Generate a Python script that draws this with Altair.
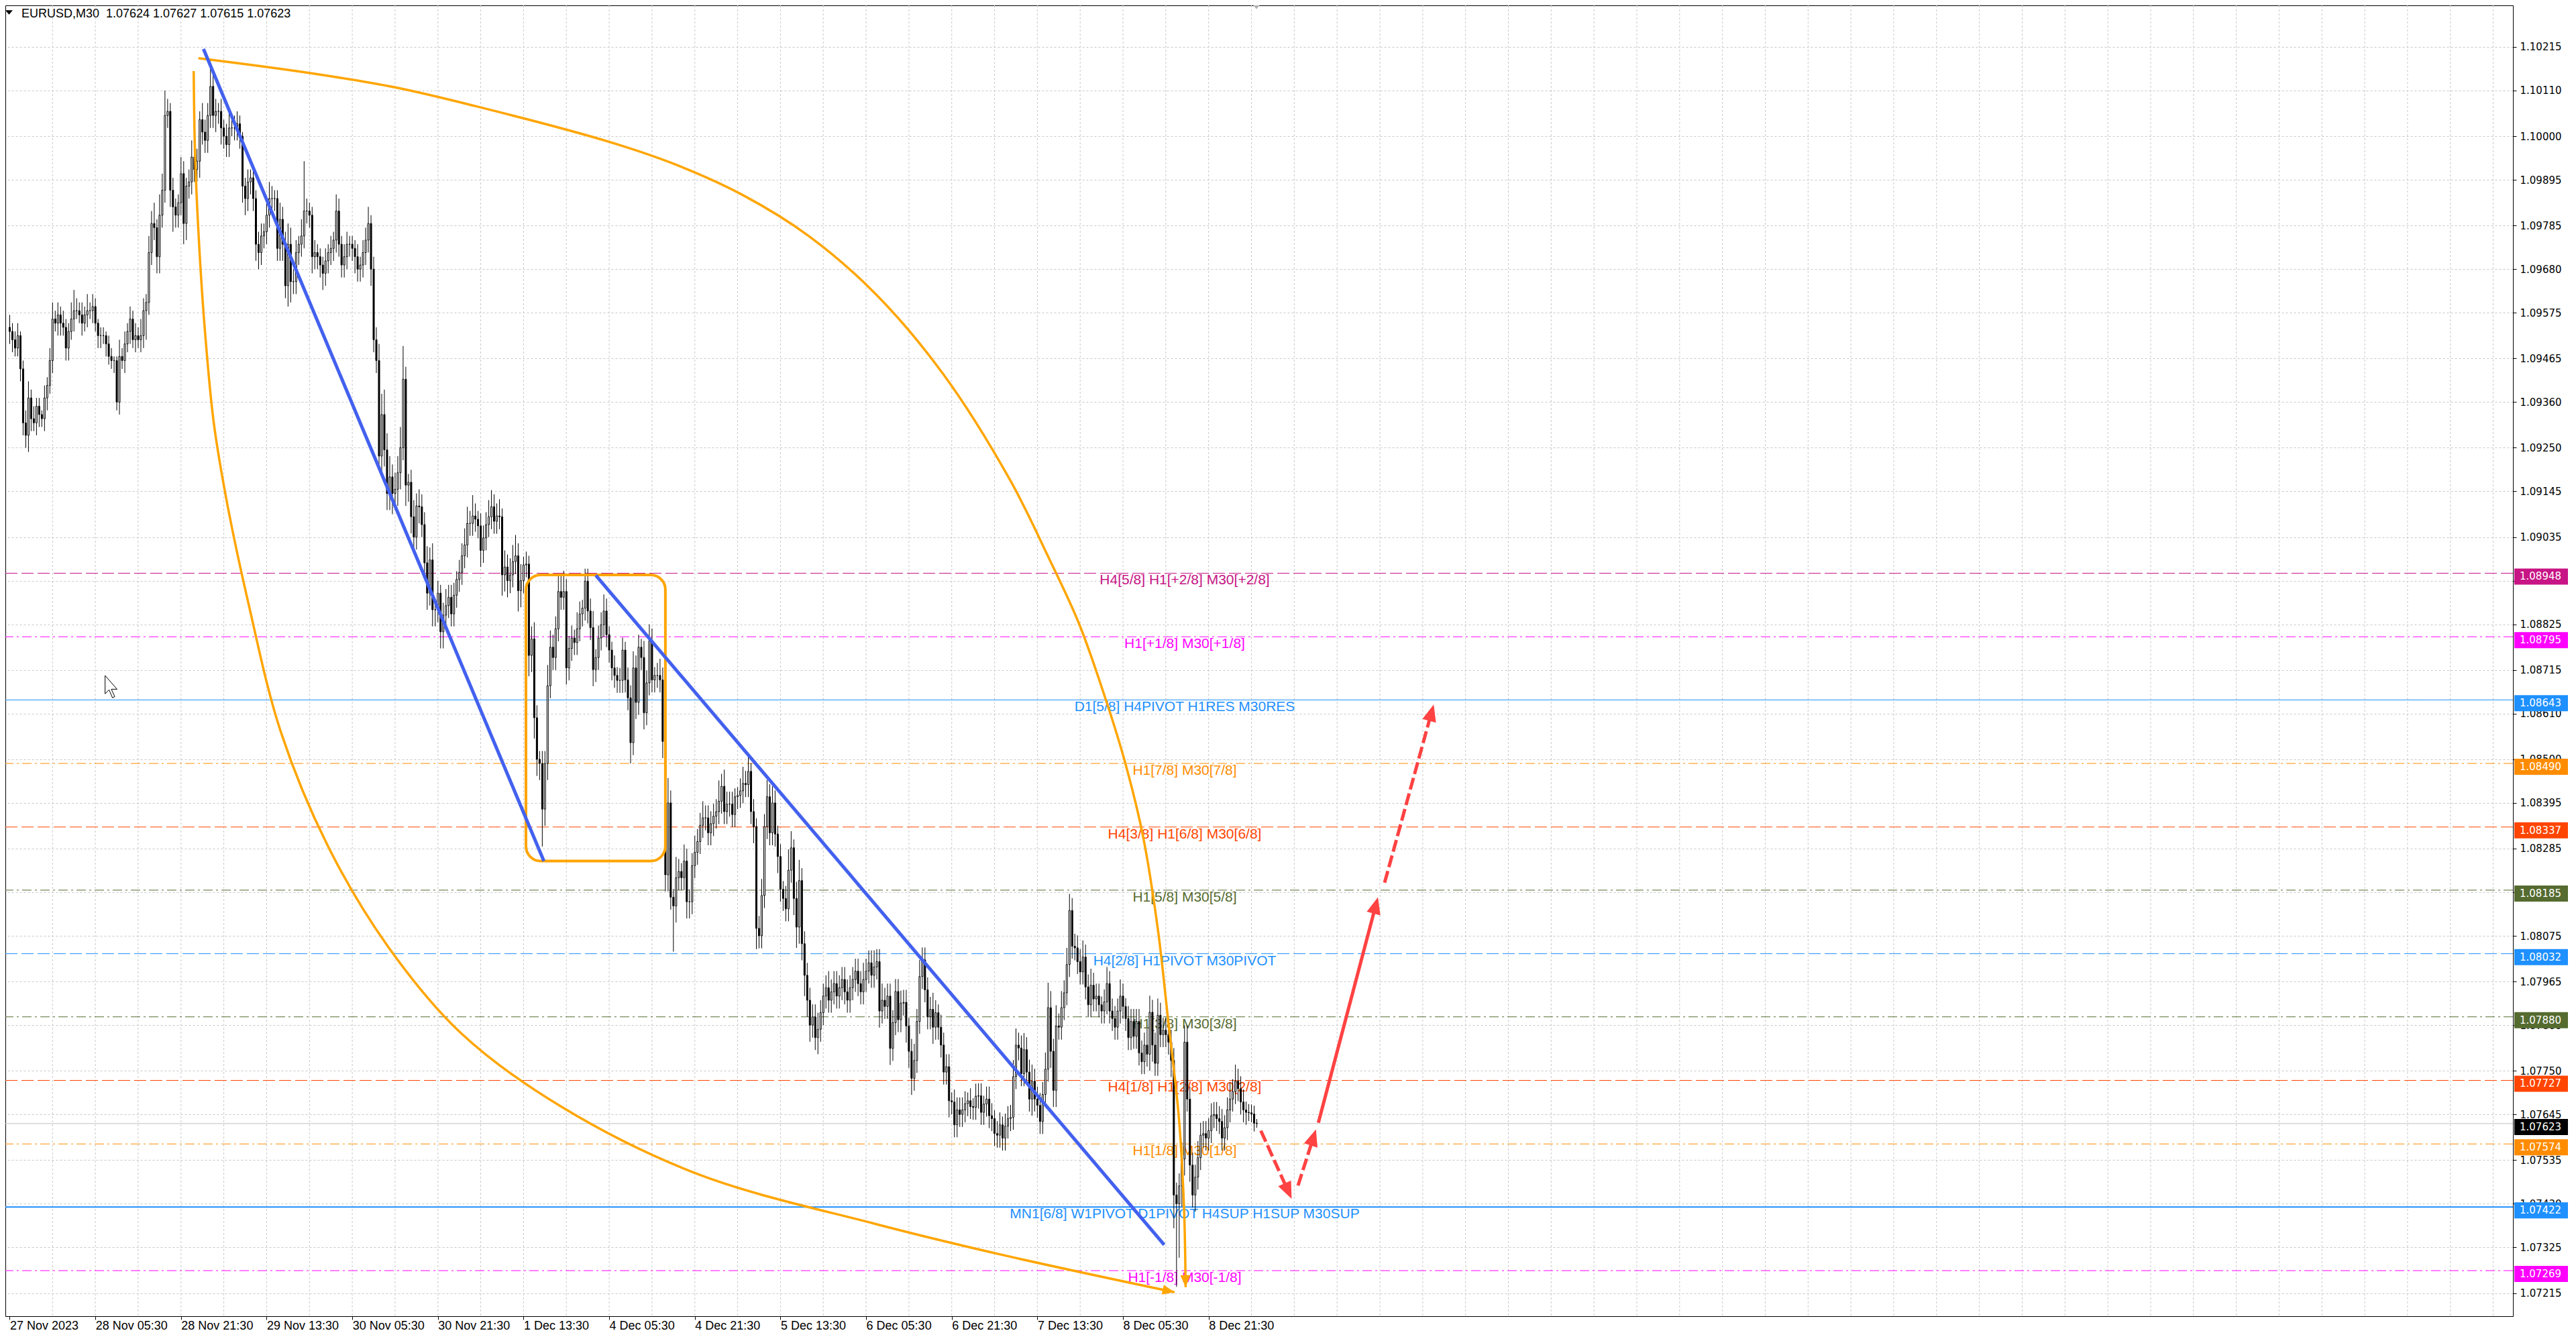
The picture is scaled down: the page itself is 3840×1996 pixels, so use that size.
import json
import math
import altair as alt
import pandas as pd

alt.data_transformers.disable_max_rows()

# ---------------- data ----------------
TITLE_TEXT = "EURUSD,M30\u00a0\u00a01.07624 1.07627 1.07615 1.07623"
PRICE_BASE = 1.07
PIP = 0.0001

OPEN_FIRST = 254.0
CLOSE_PIPS = [
    253, 251, 249, 252, 244, 231, 228, 237, 232, 231,
    235, 233, 232, 237, 240, 246, 256, 255, 257, 255,
    254, 249, 253, 256, 258, 258, 257, 255, 257, 258,
    258, 259, 255, 252, 252, 252, 250, 247, 246, 246,
    236, 247, 246, 250, 253, 256, 251, 252, 251, 252,
    258, 260, 272, 279, 278, 271, 281, 287, 305, 306,
    287, 283, 281, 284, 291, 279, 288, 289, 295, 292,
    294, 304, 301, 299, 305, 312, 305, 306, 306, 302,
    300, 298, 302, 302, 302, 303, 300, 288, 285, 289,
    290, 285, 274, 272, 276, 277, 281, 285, 285, 285,
    273, 280, 274, 264, 274, 265, 265, 272, 274, 276,
    282, 282, 281, 271, 272, 271, 269, 267, 270, 272,
    273, 275, 282, 274, 269, 271, 274, 274, 273, 271,
    268, 269, 272, 275, 279, 268, 251, 246, 223, 233,
    224.5, 214, 218, 214, 215, 219, 225, 241.5, 216, 216.7,
    208.4, 203.5, 211, 210.8, 206.5, 197.3, 190, 198, 186, 186,
    190, 180.7, 184.7, 187, 189, 185, 189.5, 193.3, 195, 199,
    201.6, 206.8, 206.8, 208.6, 207.8, 206.2, 200.3, 203.3, 206.5, 208.4,
    210.8, 207.3, 208.6, 208.4, 194.4, 196.3, 193, 194.4, 197.6, 199,
    190.6, 193, 196.8, 197, 175, 179, 160, 150, 149, 138,
    149, 167.7, 177, 174.5, 181.4, 190.4, 189, 190.4, 172, 176.7,
    179.2, 178.1, 181.4, 185, 186.4, 192.9, 185.7, 181.7, 171.6, 174.5,
    179.2, 182.4, 185.7, 180, 176.3, 172, 170.2, 169, 169, 176.3,
    169.1, 164.8, 154, 172, 163.7, 177, 174.5, 161.2, 168.4, 178.5,
    169.1, 170.2, 170.2, 169.1, 154.3, 122.2, 139.5, 116.8, 114.7, 121.5,
    123, 121.5, 125.5, 115.7, 115.7, 124.4, 127.6, 130.2, 134.1, 135.9,
    135.9, 132.3, 134.5, 136.3, 137.4, 139.9, 143.5, 137.4, 139.2, 139.2,
    136.7, 141, 141.3, 142.4, 144.2, 143.9, 147.1, 137.4, 133.8, 109.3,
    107.5, 117.2, 133.8, 141, 132.3, 139.5, 132, 126.6, 118.7, 116.5,
    114, 123.3, 128.7, 116.5, 109.6, 120.8, 105.6, 98, 92, 86,
    88, 83, 85, 89, 93, 95, 92, 94, 96, 93,
    95, 97, 94, 92, 95, 97, 99, 96, 94, 97,
    99, 101, 98, 100, 101.3, 89.4, 92, 90.5, 93, 80.4,
    86.6, 94.1, 87.3, 91.3, 91.5, 85.8, 79.7, 73.2, 77.5, 86.9,
    97.7, 101.7, 94.5, 88, 89.8, 85.5, 89, 85.5, 81.2, 74.7,
    76, 67.8, 67.5, 62, 65.6, 64.5, 65.6, 67.1, 67.8, 66.4,
    66.2, 68.9, 69, 65, 67, 68.2, 64.2, 63.5, 59.9, 59.5,
    62, 58.8, 61.7, 63.5, 63.8, 73.6, 81.2, 80.5, 74.3, 80.1,
    74.7, 68.2, 72.5, 68.2, 66.7, 62.8, 69.3, 75.4, 90.2, 79.7,
    70.3, 85.8, 85.5, 90.2, 93.8, 100.6, 113.6, 105, 104.6, 101.3,
    98.8, 102.4, 95.2, 90.9, 95.6, 92.3, 93, 90.9, 89.4, 91.6,
    96, 89.4, 87.6, 85.5, 89.4, 93, 90.5, 87.6, 83, 86.9,
    83.3, 86.9, 79.3, 77.2, 81.2, 79, 89.1, 81.2, 76.8, 88.4,
    83.7, 84.8, 83.7, 81.9, 77.5, 45.1, 43, 47.3, 53.8, 81.9,
    68.2, 52.3, 45.1, 49.4, 54.1, 59.5, 59.9, 58.8, 60.6, 64.2,
    64.5, 63.5, 62.8, 58.8, 61.3, 65.6, 68.2, 70, 72.5, 70.7,
    67.5, 65.6, 65, 64.9, 64.6, 62.4, 62.3,
]
UPPER_WICK_PIPS = [
    3, 2, 2, 3, 1, 2, 3, 4, 2, 3,  2, 2, 1, 3, 2, 3, 4, 2, 3, 2,
    3, 2, 2, 4, 5, 3, 2, 3, 2, 4,  2, 3, 2, 1, 2, 2, 1, 2, 2, 1,
    1, 4, 2, 3, 2, 3, 2, 3, 2, 4,  3, 2, 4, 3, 5, 2, 5, 4, 6, 3,
    2, 3, 2, 2, 4, 3, 2, 3, 4, 3,  3, 2, 4, 3, 3, 6, 4, 3, 2, 3,
    2, 3, 4, 3, 3, 3, 2, 1, 2, 3,  2, 3, 2, 3, 3, 2, 3, 4, 3, 2,
    2, 4, 3, 3, 5, 4, 3, 3, 2, 4,  12, 3, 2, 2, 3, 2, 2, 2, 3, 2,
    3, 2, 4, 3, 2, 3, 3, 2, 2, 2,  3, 2, 3, 3, 4, 2, 3, 3, 4, 5,
    6, 4, 5, 3, 4, 4, 5, 8, 3, 2,  3, 4, 3, 4, 3, 3, 4, 3, 4, 2,
    3, 2, 3, 4, 3, 3, 3, 2, 3, 3,  4, 4, 3, 5, 3, 2, 3, 3, 3, 4,
    4, 3, 3, 4, 2, 4, 3, 4, 4, 5,  3, 4, 2, 3, 2, 3, 4, 3, 2, 3,
    3, 5, 4, 3, 3, 4, 4, 5, 3, 3,  3, 2, 4, 3, 2, 3, 3, 3, 4, 2,
    3, 3, 4, 3, 2, 2, 3, 2, 3, 3,  2, 3, 3, 4, 3, 3, 2, 4, 3, 4,
    3, 2, 3, 4, 3, 4, 6, 3, 2, 5,  3, 2, 4, 3, 3, 3, 4, 3, 3, 4,
    3, 3, 3, 3, 3, 5, 3, 4, 3, 3,  3, 2, 2, 3, 4, 3, 4, 2, 3, 2,
    3, 4, 3, 4, 3, 4, 3, 2, 3, 2,  3, 5, 4, 2, 4, 5, 3, 3, 3, 3,
    3, 3, 4, 3, 3, 3, 4, 3, 3, 3,  3, 3, 3, 3, 3, 3, 3, 3, 3, 4,
    3, 3, 3, 4, 3, 3, 4, 3, 3, 3,  3, 3, 3, 3, 3, 3, 2, 3, 4, 3,
    4, 3, 3, 3, 3, 4, 3, 2, 3, 3,  3, 3, 2, 3, 3, 3, 3, 3, 2, 3,
    2, 3, 3, 3, 2, 3, 3, 3, 2, 3,  3, 2, 3, 3, 3, 4, 4, 3, 3, 4,
    3, 3, 4, 3, 3, 3, 3, 4, 6, 4,  3, 5, 3, 4, 3, 4, 4, 3, 3, 3,
    3, 4, 3, 3, 4, 3, 3, 3, 2, 3,  4, 3, 3, 3, 3, 4, 3, 2, 3, 3,
    3, 3, 3, 3, 3, 4, 4, 3, 3, 4,  3, 3, 3, 3, 3, 3, 3, 3, 4, 4,
    4, 3, 3, 3, 4, 3, 3, 3, 3, 3,  3, 3, 3, 3, 3, 3, 4, 3, 4, 3,
    3, 3, 2, 2, 2, 2, 1,
]
LOWER_WICK_PIPS = [
    3, 3, 2, 2, 3, 3, 3, 4, 3, 2,  3, 3, 2, 3, 3, 2, 3, 2, 3, 3,
    2, 3, 3, 2, 3, 2, 2, 3, 2, 3,  2, 3, 2, 3, 3, 2, 3, 2, 2, 3,
    2, 3, 2, 3, 2, 3, 2, 3, 2, 3,  3, 7, 3, 3, 3, 4, 4, 3, 3, 3,
    4, 6, 3, 3, 3, 5, 4, 3, 3, 3,  3, 4, 3, 3, 3, 3, 3, 4, 3, 4,
    3, 3, 3, 2, 3, 3, 3, 4, 4, 3,  3, 3, 4, 4, 3, 3, 3, 3, 3, 3,
    3, 3, 4, 3, 5, 5, 3, 3, 3, 3,  3, 3, 3, 4, 3, 3, 3, 4, 3, 3,
    3, 3, 3, 3, 3, 3, 3, 3, 3, 4,  3, 3, 3, 3, 3, 4, 3, 3, 3, 5,
    4, 4, 4, 5, 4, 4, 4, 3, 5, 4,  4, 4, 3, 4, 3, 4, 4, 3, 4, 4,
    3, 4, 4, 3, 3, 3, 3, 3, 3, 3,  3, 3, 3, 3, 3, 3, 4, 3, 3, 3,
    3, 3, 3, 3, 5, 4, 4, 3, 3, 3,  5, 4, 3, 3, 5, 4, 5, 4, 4, 9,
    4, 4, 3, 3, 3, 3, 3, 3, 4, 3,  3, 3, 3, 3, 3, 3, 3, 3, 4, 3,
    3, 3, 3, 3, 3, 3, 3, 3, 3, 3,  3, 3, 5, 3, 4, 3, 3, 4, 3, 3,
    3, 3, 3, 3, 4, 4, 4, 3, 11, 4,  3, 3, 3, 4, 4, 3, 3, 3, 3, 3,
    3, 3, 3, 3, 3, 3, 3, 3, 3, 3,  3, 3, 3, 3, 3, 3, 3, 3, 4, 5,
    3, 3, 3, 3, 3, 3, 3, 4, 3, 3,  3, 3, 3, 4, 5, 4, 4, 5, 4, 4,
    3, 3, 4, 3, 3, 3, 3, 3, 3, 3,  3, 3, 3, 3, 3, 3, 3, 3, 3, 3,
    3, 3, 3, 3, 3, 4, 3, 3, 3, 4,  3, 3, 3, 3, 3, 4, 4, 4, 3, 3,
    3, 3, 3, 3, 3, 4, 3, 3, 3, 3,  3, 4, 3, 3, 3, 3, 3, 3, 3, 3,
    3, 3, 3, 3, 3, 3, 3, 3, 3, 3,  3, 3, 3, 3, 3, 3, 3, 3, 3, 3,
    3, 3, 4, 3, 3, 3, 3, 3, 3, 4,  4, 4, 3, 3, 3, 3, 3, 3, 3, 3,
    3, 3, 3, 3, 3, 3, 3, 3, 3, 3,  3, 3, 3, 3, 3, 3, 3, 3, 3, 3,
    3, 3, 3, 3, 3, 3, 4, 4, 3, 3,  3, 3, 3, 3, 4, 8, 20, 13, 5, 4,
    3, 4, 3, 4, 3, 3, 3, 3, 3, 3,  3, 3, 3, 3, 3, 3, 3, 3, 3, 3,
    3, 3, 3, 2, 2, 2, 1,
]

DATE_LABELS = ["27 Nov 2023", "28 Nov 05:30", "28 Nov 21:30", "29 Nov 13:30",
               "30 Nov 05:30", "30 Nov 21:30", "1 Dec 13:30", "4 Dec 05:30",
               "4 Dec 21:30", "5 Dec 13:30", "6 Dec 05:30", "6 Dec 21:30",
               "7 Dec 13:30", "8 Dec 05:30", "8 Dec 21:30"]
BARS_PER_LABEL = 32
BARS_PER_GRID = 16

PRICE_TICKS = [1.10215, 1.10110, 1.10000, 1.09895, 1.09785, 1.09680, 1.09575,
               1.09465, 1.09360, 1.09250, 1.09145, 1.09035, 1.08930, 1.08825,
               1.08715, 1.08610, 1.08500, 1.08395, 1.08285, 1.08180, 1.08075,
               1.07965, 1.07860, 1.07750, 1.07645, 1.07535, 1.07430, 1.07325,
               1.07215]

LEVEL_PRICES = [1.08948, 1.08795, 1.08643, 1.08490, 1.08337, 1.08185,
                1.08032, 1.07880, 1.07727, 1.07574, 1.07422, 1.07269]
LEVEL_TEXTS = ["H4[5/8] H1[+2/8] M30[+2/8]", "H1[+1/8] M30[+1/8]",
               "D1[5/8] H4PIVOT H1RES M30RES", "H1[7/8] M30[7/8]",
               "H4[3/8] H1[6/8] M30[6/8]", "H1[5/8] M30[5/8]",
               "H4[2/8] H1PIVOT M30PIVOT", "H1[3/8] M30[3/8]",
               "H4[1/8] H1[2/8] M30[2/8]", "H1[1/8] M30[1/8]",
               "MN1[6/8] W1PIVOT D1PIVOT H4SUP H1SUP M30SUP", "H1[-1/8] M30[-1/8]"]
LEVEL_COLORS = ["#C71585", "#FF00FF", "#1E90FF", "#FF8C00", "#FF4500", "#556B2F",
                "#1E90FF", "#556B2F", "#FF4500", "#FF8C00", "#1E90FF", "#FF00FF"]
LEVEL_STYLES = ["dash", "dashdot", "solid", "dashdot", "dash", "dashdot",
                "dash", "dashdot", "dash", "dashdot", "solid", "dashdot"]
LEVEL_WIDTHS = [1, 1, 1, 1, 1, 1, 1, 1, 1, 1, 2, 1]
CURRENT_PRICE = 1.07623

# drawings, in (bar index, pips above 1.07000)
BOX_BARS = [192.9, 245.0]
BOX_PIPS = [194.4, 125.5]
TREND_BARS = {"t1": [72.4, 199.6], "t2": [219.0, 431.4]}
TREND_PIPS = {"t1": [321.0, 125.5], "t2": [194.3, 33.1]}
ARC1_BARS = [68.75, 69.25, 70.75, 73.0, 76.25, 81.25, 89.25, 101.25, 118.75, 141.25,
             168.75, 206.25, 257.25, 323.75, 371.5, 435.25]
ARC1_PIPS = [315.7, 295.8, 274.2, 252.7, 231.0, 211.6, 187.4, 156.7, 129.3, 105.0,
             84.0, 66.3, 50.1, 38.1, 30.6, 21.7]
ARC2_BARS = [70.5, 110.25, 143.75, 173.75, 223.75, 248.75, 273.75, 298.75, 323.75,
             348.75, 373.75, 388.1, 399.6, 409.6, 416.8, 423.5, 429.0, 432.8, 436.9,
             438.8, 439.4]
ARC2_PIPS = [318.8, 315.4, 311.8, 307.3, 298.7, 293.2, 285.9, 275.9, 261.9,
             242.8, 217.3, 198.7, 182.6, 164.3, 149.2, 131.4, 109.2, 87.6, 63.5,
             42.0, 22.9]
ARROW_BARS = {"a": [467.5, 479.0], "b": [481.4, 488.1], "c": [489.0, 511.25], "d": [513.75, 532.1]}
ARROW_PIPS = {"a": [60.6, 44.2], "b": [47.4, 60.9], "c": [62.5, 116.8], "d": [120.3, 163.2]}
ARROW_STYLE = {"a": "dash", "b": "dash", "c": "solid", "d": "dash"}

# ---------------- geometry ----------------
W, H = 3738, 1954
X_DOMAIN = [-0.375, 934.125]
Y_DOMAIN = [1.071593, 1.103151]
PX_BAR = W / (X_DOMAIN[1] - X_DOMAIN[0])
PX_PIP = H / ((Y_DOMAIN[1] - Y_DOMAIN[0]) / PIP)

XS = alt.Scale(domain=X_DOMAIN, nice=False, zero=False)
YS = alt.Scale(domain=Y_DOMAIN, nice=False, zero=False)

label_expr = json.dumps(DATE_LABELS) + "[round(datum.value / %d)]" % BARS_PER_LABEL
XAX = alt.Axis(values=[BARS_PER_LABEL * k for k in range(len(DATE_LABELS))],
               labelExpr=label_expr, title=None, grid=False, tickSize=5,
               tickColor="black", domainColor="black", labelFont="Liberation Sans",
               labelFontSize=18, labelColor="black", labelAlign="left",
               labelBaseline="top", labelPadding=0, labelOverlap=False,
               labelFlush=False, labelBound=False)
YAX = alt.Axis(orient="right", values=PRICE_TICKS, format=".5f", title=None,
               labelFont="DejaVu Sans", labelFontSize=15, labelColor="black",
               labelAlign="left", labelBaseline="middle", labelPadding=5,
               tickSize=5, tickColor="black", domainColor="black", grid=True,
               gridColor="#C8C8C8", gridDash=[3, 3], gridWidth=1,
               labelOverlap=False, labelFlush=False, labelBound=False)


def X(f):
    return alt.X(f, scale=XS, axis=XAX)


def Y(f):
    return alt.Y(f, scale=YS, axis=YAX)


def price(v):
    return PRICE_BASE + v * PIP


# candles
n = len(CLOSE_PIPS)
opens = [OPEN_FIRST] + CLOSE_PIPS[:-1]
cdf = pd.DataFrame({
    "i": list(range(n)),
    "o": [price(v) for v in opens],
    "c": [price(v) for v in CLOSE_PIPS],
    "h": [price(max(o, c) + u) for o, c, u in zip(opens, CLOSE_PIPS, UPPER_WICK_PIPS)],
    "l": [price(min(o, c) - d) for o, c, d in zip(opens, CLOSE_PIPS, LOWER_WICK_PIPS)],
})

# grid
vgrid = pd.DataFrame({"g": list(range(BARS_PER_GRID, int(X_DOMAIN[1]) + 1, BARS_PER_GRID))})
grid_layer = alt.Chart(vgrid).mark_rule(color="#C8C8C8", strokeDash=[3, 3], strokeWidth=1).encode(x=X("g:Q"))

# levels
ldf = pd.DataFrame({"p": LEVEL_PRICES, "t": LEVEL_TEXTS, "col": LEVEL_COLORS,
                    "sty": LEVEL_STYLES, "w": LEVEL_WIDTHS})
DASH = alt.Scale(domain=["solid", "dash", "dashdot"], range=[[1, 0], [18, 6], [14, 5, 3, 5]])
level_lines = alt.Chart(ldf).mark_rule().encode(
    y=Y("p:Q"), color=alt.Color("col:N", scale=None),
    strokeDash=alt.StrokeDash("sty:N", scale=DASH, legend=None),
    strokeWidth=alt.StrokeWidth("w:Q", scale=None))
cur_line = alt.Chart(pd.DataFrame({"p": [CURRENT_PRICE]})).mark_rule(color="#C0C0C0", strokeWidth=1).encode(y=Y("p:Q"))
level_text = alt.Chart(ldf).mark_text(font="Liberation Sans", fontSize=21, align="center",
                                      baseline="alphabetic", dy=17).encode(
    x=alt.value(1758), y=Y("p:Q"), text="t:N", color=alt.Color("col:N", scale=None))

wicks = alt.Chart(cdf).mark_rule(color="black", strokeWidth=1).encode(x=X("i:Q"), y=Y("l:Q"), y2="h:Q")
bodies = alt.Chart(cdf).mark_bar(size=2, stroke="black", strokeWidth=1).encode(
    x=X("i:Q"), y=Y("o:Q"), y2="c:Q",
    fill=alt.condition("datum.c >= datum.o", alt.value("white"), alt.value("black")))

# box
box = alt.Chart(pd.DataFrame({"x1": [BOX_BARS[0]], "x2": [BOX_BARS[1]],
                              "y1": [price(BOX_PIPS[0])], "y2": [price(BOX_PIPS[1])]})).mark_rect(
    cornerRadius=22, fillOpacity=0, stroke="#FFA500", strokeWidth=4).encode(
    x=X("x1:Q"), x2="x2:Q", y=Y("y1:Q"), y2="y2:Q")

# arcs
arc_rows = []
for name, bs, ps in (("arc1", ARC1_BARS, ARC1_PIPS), ("arc2", ARC2_BARS, ARC2_PIPS)):
    for k, (b, p) in enumerate(zip(bs, ps)):
        arc_rows.append({"name": name, "seq": k, "i": b, "p": price(p)})
arcs = alt.Chart(pd.DataFrame(arc_rows)).mark_line(color="#FFA500", strokeWidth=3.5,
                                                   interpolate="catmull-rom").encode(
    x=X("i:Q"), y=Y("p:Q"), detail="name:N", order="seq:Q")

HEAD_SHAPE = "M0,-1L0.75,0.8L-0.75,0.8Z"


def head(b0, p0, b1, p1, r):
    dx = (b1 - b0) * PX_BAR
    dy = (p1 - p0) * PX_PIP
    a = math.degrees(math.atan2(dx, dy)) % 360
    ci = b1 - r * math.sin(math.radians(a)) / PX_BAR
    cp = p1 - r * math.cos(math.radians(a)) / PX_PIP
    return a, ci, cp


arc_heads = []
for bs, ps in ((ARC1_BARS, ARC1_PIPS), (ARC2_BARS, ARC2_PIPS)):
    a, ci, cp = head(bs[-2], ps[-2], bs[-1], ps[-1], 10)
    arc_heads.append({"i": ci, "p": price(cp), "a": a})
arc_head_layer = alt.Chart(pd.DataFrame(arc_heads)).mark_point(
    shape=HEAD_SHAPE, filled=True, size=400, color="#FFA500", opacity=1).encode(
    x=X("i:Q"), y=Y("p:Q"), angle=alt.Angle("a:Q", scale=None))

# trend lines
trows = []
for name in TREND_BARS:
    for k in range(2):
        trows.append({"name": name, "seq": k, "i": TREND_BARS[name][k], "p": price(TREND_PIPS[name][k])})
trends = alt.Chart(pd.DataFrame(trows)).mark_line(color="#4361EE", strokeWidth=5).encode(
    x=X("i:Q"), y=Y("p:Q"), detail="name:N", order="seq:Q")

# red arrows
rrows, rheads = [], []
R_RED = 14
for name in ARROW_BARS:
    b0, b1 = ARROW_BARS[name]
    p0, p1 = ARROW_PIPS[name]
    a, ci, cp = head(b0, p0, b1, p1, R_RED)
    eb = b1 - 1.5 * R_RED * math.sin(math.radians(a)) / PX_BAR
    ep = p1 - 1.5 * R_RED * math.cos(math.radians(a)) / PX_PIP
    rrows.append({"name": name, "seq": 0, "i": b0, "p": price(p0), "sty": ARROW_STYLE[name]})
    rrows.append({"name": name, "seq": 1, "i": eb, "p": price(ep), "sty": ARROW_STYLE[name]})
    rheads.append({"i": ci, "p": price(cp), "a": a})
RDASH = alt.Scale(domain=["solid", "dash"], range=[[1, 0], [14, 8]])
red_lines = alt.Chart(pd.DataFrame(rrows)).mark_line(color="#FF4242", strokeWidth=5).encode(
    x=X("i:Q"), y=Y("p:Q"), detail="name:N", order="seq:Q",
    strokeDash=alt.StrokeDash("sty:N", scale=RDASH, legend=None))
red_heads = alt.Chart(pd.DataFrame(rheads)).mark_point(
    shape=HEAD_SHAPE, filled=True, size=4 * R_RED * R_RED, color="#FF4242", opacity=1).encode(
    x=X("i:Q"), y=Y("p:Q"), angle=alt.Angle("a:Q", scale=None))

# price boxes on the right scale
pdf = pd.DataFrame({"p": LEVEL_PRICES + [CURRENT_PRICE], "col": LEVEL_COLORS + ["#000000"]})
pdf["lab"] = ["%.5f" % v for v in pdf["p"]]
pboxes = alt.Chart(pdf).mark_tick(orient="horizontal", size=80, thickness=24, opacity=1, yOffset=5).encode(
    y=Y("p:Q"), x=alt.value(3780), color=alt.Color("col:N", scale=None))
ptext = alt.Chart(pdf).mark_text(font="DejaVu Sans", fontSize=15, color="white", align="left",
                                 baseline="middle", dy=5).encode(x=alt.value(3748), y=Y("p:Q"), text="lab:N")

# header and small ui marks
one = pd.DataFrame({"t": [TITLE_TEXT]})
header = alt.Chart(one).mark_text(font="Liberation Sans", fontSize=18, align="left",
                                  baseline="alphabetic", color="black").encode(
    x=alt.value(24), y=alt.value(18), text="t:N")
tri = alt.Chart(one).mark_point(shape="M-1,-0.6L1,-0.6L0,0.6Z", filled=True, size=121,
                                color="black", opacity=1).encode(x=alt.value(5.5), y=alt.value(10.5))
shift_tri = alt.Chart(one).mark_point(shape="M-1,-0.6L1,-0.6L0,0.6Z", filled=True, size=144,
                                      color="#B0B0B0", opacity=1).encode(x=alt.value(1865), y=alt.value(2))
cursor = alt.Chart(one).mark_point(
    shape="M-0.55,-1L-0.55,0.6L-0.2,0.25L0.1,0.95L0.3,0.85L0,0.2L0.5,0.2Z",
    filled=True, size=1156, fill="white", stroke="black", strokeWidth=1, opacity=1).encode(
    x=alt.value(158), y=alt.value(1016))

chart = alt.layer(
    grid_layer, level_lines, cur_line, level_text, wicks, bodies,
    box, arcs, arc_head_layer, trends, red_lines, red_heads,
    pboxes, ptext, header, tri, shift_tri, cursor,
).properties(
    width=W, height=H, autosize=alt.AutoSizeParams(type="none"),
    padding={"left": 0, "top": 0, "right": 86, "bottom": 24},
    background="white",
).configure_view(stroke="black", strokeWidth=1)

chart.save("out.html", embed_options={"renderer": "svg", "actions": False})
